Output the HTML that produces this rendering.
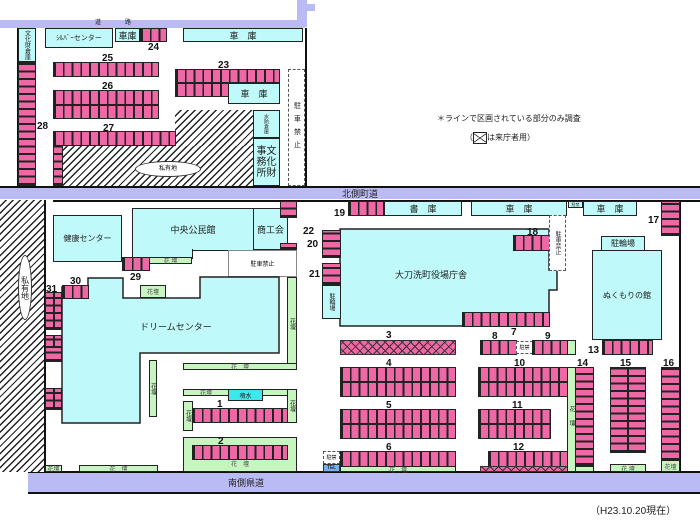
<!DOCTYPE html>
<html><head><meta charset="utf-8">
<style>
*{margin:0;padding:0;box-sizing:border-box}
body{width:700px;height:527px;background:#fff;position:relative;overflow:hidden;font-family:"Liberation Sans","Noto Sans CJK JP",sans-serif;}
div{position:absolute}
.c{background:#bff9f9;border:1.5px solid #222;display:flex;align-items:center;justify-content:center;font-size:9px;color:#222}
.g{background:#c6f5c0;border:1.5px solid #222;display:flex;align-items:center;justify-content:center;font-size:6px;color:#444}
.ph{border:1.5px solid #222;background:repeating-linear-gradient(90deg,#222 0 1.8px,#ee68a6 1.8px 8.8px)}
.ph2{border:1.5px solid #222;background:linear-gradient(#222,#222) 0 50%/100% 2px no-repeat,repeating-linear-gradient(90deg,#222 0 1.8px,#ee68a6 1.8px 8.8px)}
.pv{border:1.5px solid #222;background:repeating-linear-gradient(0deg,#222 0 1.8px,#ee68a6 1.8px 7.5px)}
.pv2{border:1.5px solid #222;background:linear-gradient(#222,#222) 50% 0/2px 100% no-repeat,repeating-linear-gradient(0deg,#222 0 1.8px,#ee68a6 1.8px 7.5px)}
.px{border:1.5px solid #333;background:repeating-linear-gradient(45deg,transparent 0 3px,#333 3px 4px,transparent 4px 6px),repeating-linear-gradient(-45deg,#ee68a6 0 3px,#333 3px 4px,#ee68a6 4px 6px)}
.h{background:repeating-linear-gradient(135deg,#fff 0 3.6px,#222 3.6px 5px)}
.r{background:#babaf5}
.n{font-size:10px;font-weight:bold;color:#111}
.t{font-size:9px;color:#222}
.v{writing-mode:vertical-rl;font-size:8px;color:#222}
.d{border:1px dashed #555;background:#fff;display:flex;align-items:center;justify-content:center}
.k{background:#111}
</style></head><body>
<div class="r" style="left:0;top:20px;width:305px;height:8px"></div>
<div class="r" style="left:297px;top:0;width:10px;height:27px"></div>
<div class="r" style="left:297px;top:4px;width:18px;height:7px"></div>
<div class="t" style="left:95px;top:17px;font-size:6px">道　　　　路</div>
<div class="r" style="left:0;top:187px;width:700px;height:12px"></div>
<div class="t" style="left:342px;top:187px;font-size:9px">北側町道</div>
<div class="k" style="left:0;top:186px;width:700px;height:1.5px"></div>
<div class="k" style="left:53px;top:200px;width:647px;height:1.5px"></div>
<div class="r" style="left:28px;top:472px;width:672px;height:20px"></div>
<div class="k" style="left:28px;top:471px;width:672px;height:1.5px"></div>
<div class="k" style="left:28px;top:492px;width:672px;height:1.5px"></div>
<div class="t" style="left:228px;top:476px;font-size:9px">南側県道</div>
<div class="k" style="left:305px;top:28px;width:1.5px;height:158px"></div>
<div class="k" style="left:679px;top:201px;width:1.5px;height:271px"></div>
<div class="k" style="left:44px;top:200px;width:1.5px;height:272px"></div>
<div class="k" style="left:17px;top:28px;width:1.5px;height:158px"></div>
<div class="c" style="left:18px;top:28px;width:18px;height:34px"><span class="v" style="font-size:6px">文化財倉庫</span></div>
<div class="pv" style="left:18px;top:62px;width:18px;height:124px"></div>
<div class="n" style="left:37px;top:121px">28</div>
<div class="c" style="left:45px;top:28px;width:68px;height:20px;font-size:7px">ｼﾙﾊﾞｰセンター</div>
<div class="c" style="left:115px;top:28px;width:25px;height:14px">車庫</div>
<div class="ph" style="left:140px;top:28px;width:27px;height:14px"></div>
<div class="n" style="left:148px;top:42px">24</div>
<div class="c" style="left:183px;top:28px;width:120px;height:14px">車　庫</div>
<div class="ph" style="left:53px;top:62px;width:106px;height:15px"></div>
<div class="n" style="left:102px;top:53px">25</div>
<div class="ph2" style="left:53px;top:90px;width:106px;height:29px"></div>
<div class="n" style="left:102px;top:81px">26</div>
<div class="ph2" style="left:175px;top:69px;width:105px;height:28px"></div>
<div class="n" style="left:218px;top:60px">23</div>
<div class="c" style="left:228px;top:83px;width:52px;height:21px">車　庫</div>
<div class="h" style="left:62px;top:145px;width:191px;height:41px"></div>
<div class="h" style="left:175px;top:110px;width:78px;height:36px"></div>
<div class="ph" style="left:53px;top:131px;width:123px;height:15px"></div>
<div class="n" style="left:103px;top:123px">27</div>
<div class="pv" style="left:53px;top:145px;width:10px;height:41px"></div>
<div style="left:135px;top:161px;width:66px;height:16px;border:1px solid #333;border-radius:50%;background:#fff;font-size:6px;text-align:center;line-height:14px">私有地</div>
<div class="c" style="left:253px;top:110px;width:27px;height:28px"><span style="font-size:5px;writing-mode:vertical-rl">水防倉庫</span></div>
<div class="c" style="left:253px;top:138px;width:27px;height:48px;font-size:10px;line-height:11px;text-align:center">事文<br>務化<br>所財</div>
<div class="d" style="left:288px;top:69px;width:17px;height:117px"><span class="v" style="font-size:7px;letter-spacing:6px">駐車禁止</span></div>
<div class="t" style="left:437px;top:113px;font-size:8px">＊ラインで区画されている部分のみ調査</div>
<div class="t" style="left:465px;top:132px;font-size:8px">（<span style="display:inline-block;width:14px;height:12px;border:1px solid #222;vertical-align:middle;background:linear-gradient(35deg,transparent 47%,#222 48% 52%,transparent 53%),linear-gradient(-35deg,transparent 47%,#222 48% 52%,transparent 53%)"></span>は来庁者用）</div>
<div class="h" style="left:0;top:200px;width:44px;height:272px"></div>
<div style="left:18px;top:255px;width:14px;height:65px;border:1px solid #333;border-radius:50%;background:#fff;display:flex;align-items:center;justify-content:center"><span class="v" style="font-size:8px">私有地</span></div>
<div class="c" style="left:53px;top:215px;width:69px;height:47px;font-size:8px">健康センター</div>
<div class="c" style="left:132px;top:208px;width:122px;height:43px">中央公民館</div>
<div class="c" style="left:132px;top:249px;width:61px;height:10px;border-top:none"></div>
<div class="c" style="left:253px;top:208px;width:35px;height:42px">商工会</div>
<div class="pv" style="left:280px;top:201px;width:17px;height:17px"></div>
<div class="pv" style="left:280px;top:243px;width:17px;height:7px"></div>
<div class="n" style="left:303px;top:226px">22</div>
<div class="n" style="left:307px;top:239px">20</div>
<div class="n" style="left:309px;top:269px">21</div>
<div class="ph" style="left:122px;top:257px;width:28px;height:14px"></div>
<div class="n" style="left:130px;top:272px">29</div>
<div class="g" style="left:149px;top:257px;width:43px;height:7px">花 壇</div>
<div style="left:228px;top:250px;width:69px;height:27px;border:1px solid #888;background:#fff;font-size:6px;display:flex;align-items:center;justify-content:center">駐車禁止</div>
<svg style="position:absolute;left:0;top:0" width="700" height="527"><polygon points="62,287 88,287 88,278 123,278 123,298 200,298 200,277 279,277 279,353 140,353 140,423 62,423" fill="#bff9f9" stroke="#222" stroke-width="1.5"/></svg>
<div class="t" style="left:140px;top:320px">ドリームセンター</div>
<div class="ph" style="left:62px;top:285px;width:27px;height:14px"></div>
<div class="n" style="left:70px;top:276px">30</div>
<div class="n" style="left:46px;top:284px">31</div>
<div class="pv2" style="left:45px;top:292px;width:17px;height:38px"></div>
<div class="pv2" style="left:45px;top:335px;width:17px;height:14px"></div>
<div class="pv" style="left:45px;top:347px;width:17px;height:15px"></div>
<div class="pv2" style="left:45px;top:388px;width:17px;height:22px"></div>
<div class="g" style="left:140px;top:285px;width:26px;height:13px">花壇</div>
<div class="g" style="left:287px;top:277px;width:10px;height:93px"><span class="v" style="font-size:6px">花壇</span></div>
<div class="g" style="left:183px;top:363px;width:114px;height:7px">花　壇</div>
<div class="g" style="left:149px;top:360px;width:8px;height:57px"><span class="v" style="font-size:6px">花壇</span></div>
<div class="g" style="left:183px;top:389px;width:114px;height:7px;justify-content:flex-start;padding-left:16px">花壇</div>
<div class="g" style="left:287px;top:389px;width:10px;height:34px"><span class="v" style="font-size:6px">花壇</span></div>
<div class="c" style="left:228px;top:389px;width:35px;height:12px;background:#3ce7ee;font-size:6px">噴水</div>
<div class="g" style="left:183px;top:401px;width:10px;height:30px"><span class="v" style="font-size:6px">花壇</span></div>
<div class="ph" style="left:192px;top:408px;width:96px;height:15px"></div>
<div class="n" style="left:217px;top:399px">1</div>
<div class="g" style="left:183px;top:437px;width:114px;height:35px;align-items:flex-end;padding-bottom:3px">花　壇</div>
<div class="ph" style="left:192px;top:445px;width:96px;height:15px"></div>
<div class="n" style="left:218px;top:436px">2</div>
<div class="g" style="left:45px;top:465px;width:17px;height:7px">花壇</div>
<div class="g" style="left:79px;top:465px;width:79px;height:7px">花　壇</div>
<div class="ph" style="left:348px;top:201px;width:36px;height:15px"></div>
<div class="n" style="left:334px;top:208px">19</div>
<div class="c" style="left:384px;top:201px;width:78px;height:15px">書　庫</div>
<div class="c" style="left:471px;top:201px;width:96px;height:15px">車　庫</div>
<div class="c" style="left:568px;top:201px;width:15px;height:7px;font-size:4px">駐禁</div>
<div class="c" style="left:583px;top:201px;width:54px;height:15px">車　庫</div>
<div class="pv" style="left:661px;top:201px;width:19px;height:35px"></div>
<div class="n" style="left:648px;top:215px">17</div>
<svg style="position:absolute;left:0;top:0" width="700" height="527"><polygon points="340,229 549,229 549,270 557,270 557,290 549,290 549,326 340,326" fill="#bff9f9" stroke="#222" stroke-width="1.5"/></svg>
<div class="t" style="left:395px;top:268px">大刀洗町役場庁舎</div>
<div class="ph" style="left:513px;top:235px;width:37px;height:16px"></div>
<div class="n" style="left:527px;top:227px">18</div>
<div class="ph" style="left:462px;top:312px;width:88px;height:15px"></div>
<div class="d" style="left:549px;top:215px;width:17px;height:56px"><span class="v" style="font-size:6px">駐車禁止</span></div>
<div class="pv" style="left:322px;top:230px;width:19px;height:28px"></div>
<div class="pv" style="left:322px;top:263px;width:19px;height:22px"></div>
<div class="c" style="left:322px;top:285px;width:19px;height:34px"><span class="v" style="font-size:6px">駐輪場</span></div>
<div class="c" style="left:601px;top:236px;width:44px;height:15px;font-size:8px">駐輪場</div>
<div class="c" style="left:592px;top:250px;width:70px;height:90px;font-size:8px">ぬくもりの館</div>
<div class="ph" style="left:602px;top:340px;width:51px;height:15px"></div>
<div class="n" style="left:588px;top:345px">13</div>
<div class="px" style="left:340px;top:340px;width:116px;height:15px"></div>
<div class="n" style="left:386px;top:330px">3</div>
<div class="ph" style="left:480px;top:340px;width:37px;height:15px"></div>
<div class="n" style="left:492px;top:331px">8</div>
<div class="d" style="left:516px;top:341px;width:17px;height:13px;font-size:5px">駐禁</div>
<div class="n" style="left:511px;top:327px">7</div>
<div class="ph" style="left:532px;top:340px;width:36px;height:15px"></div>
<div class="n" style="left:545px;top:331px">9</div>
<div class="g" style="left:567px;top:340px;width:9px;height:15px"></div>
<div class="ph2" style="left:340px;top:367px;width:116px;height:30px"></div>
<div class="n" style="left:386px;top:358px">4</div>
<div class="ph2" style="left:478px;top:367px;width:90px;height:30px"></div>
<div class="n" style="left:514px;top:358px">10</div>
<div class="ph2" style="left:340px;top:409px;width:116px;height:30px"></div>
<div class="n" style="left:386px;top:400px">5</div>
<div class="ph2" style="left:478px;top:409px;width:73px;height:30px"></div>
<div class="n" style="left:512px;top:400px">11</div>
<div class="ph" style="left:340px;top:451px;width:116px;height:16px"></div>
<div class="n" style="left:386px;top:442px">6</div>
<div class="d" style="left:323px;top:451px;width:17px;height:13px;font-size:5px">駐禁</div>
<div style="left:323px;top:464px;width:17px;height:8px;background:#7aaff0;border:1px solid #333;font-size:5px;text-align:center;line-height:6px">TEL</div>
<div class="g" style="left:340px;top:466px;width:116px;height:6px">花　壇</div>
<div class="ph" style="left:488px;top:451px;width:80px;height:16px"></div>
<div class="n" style="left:513px;top:442px">12</div>
<div class="px" style="left:480px;top:466px;width:88px;height:6px;background-color:#c6f5c0"></div>
<div class="g" style="left:567px;top:367px;width:9px;height:105px"><span class="v" style="font-size:6px;letter-spacing:8px">花壇</span></div>
<div class="pv" style="left:575px;top:367px;width:19px;height:99px"></div>
<div class="g" style="left:575px;top:466px;width:19px;height:6px"></div>
<div class="n" style="left:577px;top:358px">14</div>
<div class="pv2" style="left:610px;top:367px;width:36px;height:86px"></div>
<div class="n" style="left:620px;top:358px">15</div>
<div class="g" style="left:610px;top:464px;width:36px;height:8px">花 壇</div>
<div class="pv" style="left:661px;top:367px;width:19px;height:94px"></div>
<div class="n" style="left:663px;top:358px">16</div>
<div class="g" style="left:661px;top:460px;width:19px;height:12px">花壇</div>
<div class="t" style="left:590px;top:502px;font-size:10px">（H23.10.20現在）</div>
</body></html>
